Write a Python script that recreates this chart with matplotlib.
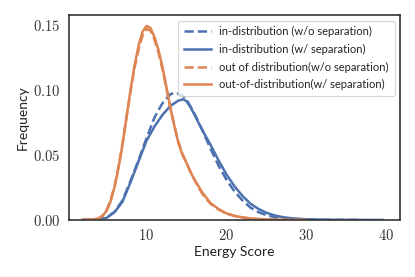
import matplotlib
matplotlib.use("Agg")
import matplotlib.pyplot as plt

plt.rcParams['mathtext.fontset'] = 'cm'
plt.rcParams['font.family'] = ['Lato', 'DejaVu Sans']

# ID w/o separation (dashed blue)
id_wo_x = [2, 4, 5, 6, 7, 8, 9, 10, 11, 12, 13, 13.7, 14.5, 15, 16, 17, 18, 19, 20, 21, 22, 23, 24, 25, 26, 28, 30, 33, 37]
id_wo_y = [0, 0.0003, 0.0018, 0.0062, 0.015, 0.030, 0.046, 0.063, 0.079, 0.090, 0.097, 0.098, 0.096, 0.093, 0.082, 0.069, 0.055, 0.042, 0.031, 0.022, 0.015, 0.0095, 0.006, 0.0037, 0.0022, 0.0007, 0.0002, 0.00003, 0]

# ID w/ separation (solid blue)
id_w_x = [2, 4, 5, 6, 7, 8, 9, 10, 11, 12, 13, 14, 14.6, 15, 15.5, 16, 16.5, 17, 18, 19, 20, 21, 22, 23, 24, 25, 26, 27, 28, 30, 33, 36, 39.5]
id_w_y = [0, 0.0003, 0.0015, 0.006, 0.014, 0.029, 0.045, 0.061, 0.072, 0.081, 0.088, 0.092, 0.093, 0.0915, 0.087, 0.081, 0.075, 0.069, 0.058, 0.046, 0.035, 0.026, 0.0185, 0.0125, 0.0085, 0.0055, 0.0035, 0.0022, 0.0014, 0.0005, 0.0001, 0.00002, 0]

# OOD w/o separation (dashed orange)
ood_wo_x = [2, 3, 4, 4.5, 5, 5.5, 6, 6.5, 7, 7.5, 8, 8.5, 9, 9.5, 10, 10.5, 11, 11.5, 12, 12.5, 13, 13.5, 14, 14.5, 15, 15.5, 16, 16.5, 17, 17.5, 18, 19, 20, 21, 22, 23, 24, 26, 28, 30]
ood_wo_y = [0, 0.0002, 0.0012, 0.0033, 0.0075, 0.015, 0.026, 0.041, 0.059, 0.079, 0.099, 0.117, 0.131, 0.142, 0.147, 0.146, 0.139, 0.129, 0.116, 0.101, 0.086, 0.072, 0.060, 0.051, 0.044, 0.037, 0.031, 0.025, 0.020, 0.016, 0.0125, 0.008, 0.005, 0.003, 0.0018, 0.0011, 0.0006, 0.0002, 0.00005, 0]

# OOD w/ separation (solid orange)
ood_w_x = [2, 3, 4, 4.5, 5, 5.5, 6, 6.5, 7, 7.5, 8, 8.5, 9, 9.5, 10, 10.5, 11, 11.5, 12, 12.5, 13, 13.5, 14, 14.5, 15, 15.5, 16, 16.5, 17, 17.5, 18, 19, 20, 21, 22, 23, 24, 26, 28, 30]
ood_w_y = [0, 0.0002, 0.001, 0.003, 0.007, 0.014, 0.025, 0.040, 0.058, 0.079, 0.100, 0.119, 0.134, 0.145, 0.1495, 0.148, 0.141, 0.131, 0.118, 0.102, 0.086, 0.072, 0.059, 0.050, 0.044, 0.037, 0.031, 0.026, 0.021, 0.017, 0.013, 0.0085, 0.005, 0.0032, 0.002, 0.0012, 0.0007, 0.0002, 0.00005, 0]

labels = ["in-distribution (w/o separation)", "in-distribution (w/ separation)",
          "out of distribution(w/o separation)", "out-of-distribution(w/ separation)"]
xticks = [10, 20, 30, 40]
yticks = [0.00, 0.05, 0.10, 0.15]

blue = '#4C72B0'
orange = '#DD8452'

fig = plt.figure(figsize=(4.15, 2.77), dpi=100)
ax = fig.add_axes([0.166, 0.206, 0.798, 0.740])

ax.plot(id_wo_x, id_wo_y, color=blue, lw=1.8, ls='--', label=labels[0])
ax.plot(id_w_x, id_w_y, color=blue, lw=1.8, ls='-', label=labels[1])
ax.plot(ood_wo_x, ood_wo_y, color=orange, lw=1.8, ls='--', label=labels[2])
ax.plot(ood_w_x, ood_w_y, color=orange, lw=1.8, ls='-', label=labels[3])

ax.set_xlim(0.3, 41.7)
ax.set_ylim(0, 0.158)
ax.set_xticks(xticks)
ax.set_xticklabels([f'${v}$' for v in xticks])
ax.set_yticks(yticks)
ax.set_yticklabels([f'${v:.2f}$' for v in yticks])
ax.tick_params(length=0, labelsize=10.5, colors='#333333', pad=6)
for s in ax.spines.values():
    s.set_color('#333333')
    s.set_linewidth(1.2)
ax.set_xlabel('Energy Score', fontsize=10, color='#222222', labelpad=2)
ax.set_ylabel('Frequency', fontsize=10, color='#222222', labelpad=3)

leg = ax.legend(loc='upper right', fontsize=8, frameon=True, handlelength=2.4,
                borderaxespad=0.5, labelspacing=0.6, handletextpad=0.8,
                borderpad=0.5)
leg.get_frame().set_edgecolor('#cccccc')
leg.get_frame().set_linewidth(0.8)
for t in leg.get_texts():
    t.set_color('#222222')

fig.savefig('out.png', dpi=100)
